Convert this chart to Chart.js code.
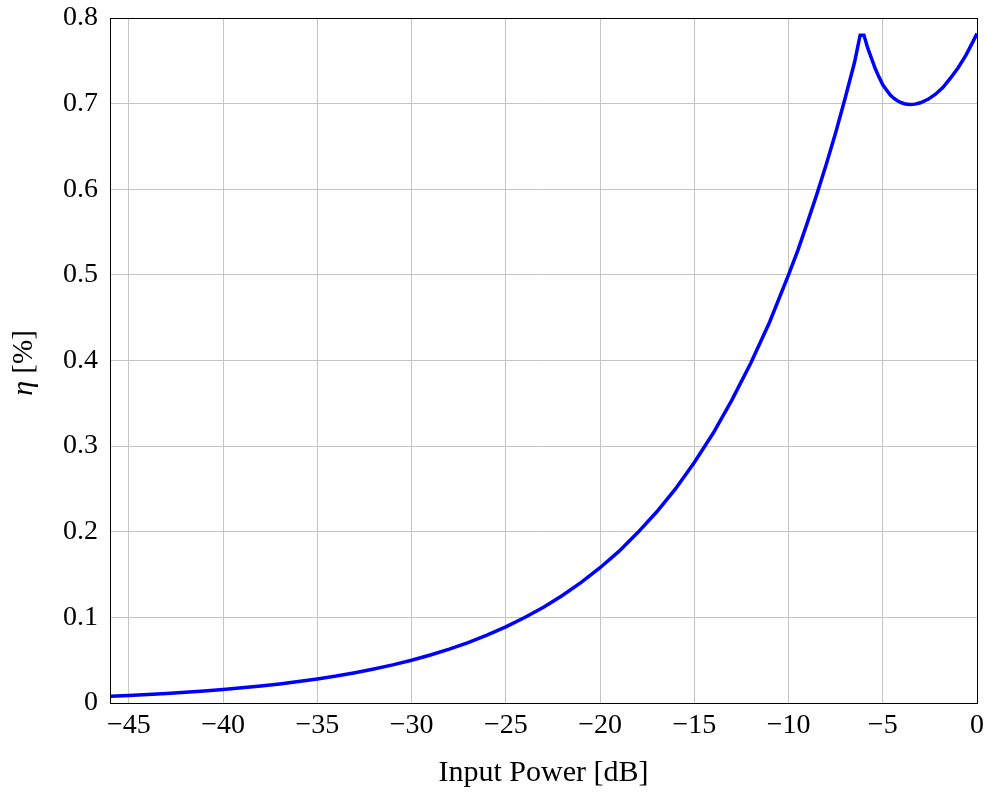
<!DOCTYPE html>
<html lang="en">
<head>
    <meta charset="UTF-8">
    <title>Efficiency vs. Input Power</title>
    <script src="https://cdn.jsdelivr.net/npm/chart.js"></script>
    <style>
        body { margin: 0; padding: 0; background: #fff; }
        #wrap { width: 997px; height: 793px; }
    </style>
</head>
<body>
    <div id="wrap"><canvas id="etaChart" width="997" height="793"></canvas></div>

    <script>
        // input power (dB) and drain efficiency
        const inputPower = [
            -46, -45, -44, -43, -42, -41, -40, -39, -38, -37, -36, -35, -34, -33, -32, -31,
            -30, -29, -28, -27, -26, -25, -24, -23, -22, -21, -20, -19, -18, -17, -16, -15,
            -14, -13, -12, -11, -10, -9.5, -9, -8.5, -8, -7.5, -7, -6.5, -6.2, -6.0,
            -5.8, -5.6, -5.4, -5.2, -5.0, -4.8, -4.6, -4.4, -4.2, -4.0, -3.8, -3.55, -3.3,
            -3.0, -2.6, -2.2, -1.8, -1.4, -1.0, -0.6, -0.2, 0
        ];
        const eta = [
            0.0079, 0.0089, 0.0100, 0.0112, 0.0126, 0.0141, 0.0158, 0.0177, 0.0199, 0.0223, 0.0250, 0.0281, 0.0315, 0.0354, 0.0397, 0.0445,
            0.0500, 0.0561, 0.0629, 0.0706, 0.0792, 0.0889, 0.0998, 0.1119, 0.1255, 0.1408, 0.158, 0.177, 0.199, 0.223, 0.250, 0.281,
            0.315, 0.354, 0.397, 0.445, 0.500, 0.529, 0.561, 0.594, 0.629, 0.666, 0.706, 0.748, 0.780, 0.780,
            0.765, 0.753, 0.741, 0.731, 0.722, 0.716, 0.710, 0.706, 0.703, 0.701, 0.6995, 0.699, 0.6994,
            0.701, 0.705, 0.711, 0.719, 0.730, 0.742, 0.756, 0.773, 0.782
        ];
        const xTicks = [-45, -40, -35, -30, -25, -20, -15, -10, -5, 0];
        const yTicks = [0, 0.1, 0.2, 0.3, 0.4, 0.5, 0.6, 0.7, 0.8];

        const serif = "'Liberation Serif', 'DejaVu Serif', serif";
        const gridColor = '#c4c4c4';

        // black frame around the plot area + rotated y label with italic eta
        const framePlugin = {
            id: 'frame',
            afterDatasetsDraw(chart) {
                const a = chart.chartArea, ctx = chart.ctx;
                ctx.save();
                ctx.strokeStyle = '#000';
                ctx.lineWidth = 1;
                ctx.strokeRect(Math.round(a.left) + 0.5, Math.round(a.top) + 0.5,
                    Math.round(a.right - a.left), Math.round(a.bottom - a.top));
                ctx.restore();
            },
            afterDraw(chart) {
                const ctx = chart.ctx;
                ctx.save();
                ctx.translate(24, 363);
                ctx.rotate(-Math.PI / 2);
                ctx.fillStyle = '#000';
                ctx.textBaseline = 'middle';
                ctx.textAlign = 'left';
                const greek = 'italic 30px ' + serif, plain = '29px ' + serif;
                ctx.font = greek;
                const w1 = ctx.measureText('\u03b7').width;
                ctx.font = plain;
                const txt = ' [%]';
                const w2 = ctx.measureText(txt).width;
                const x0 = -(w1 + w2) / 2;
                ctx.font = greek;
                ctx.fillText('\u03b7', x0, 0);
                ctx.font = plain;
                ctx.fillText(txt, x0 + w1, 0);
                ctx.restore();
            }
        };

        const fmt = v => v < 0 ? '\u2212' + Math.abs(v) : String(v);

        new Chart(document.getElementById('etaChart'), {
            type: 'line',
            data: {
                datasets: [{
                    data: inputPower.map((x, i) => ({ x: x, y: eta[i] })),
                    borderColor: '#0000ff',
                    borderWidth: 3.5,
                    pointRadius: 0,
                    tension: 0,
                    fill: false
                }]
            },
            options: {
                responsive: false,
                animation: false,
                layout: { padding: { top: 18, right: 20, left: 0, bottom: 0 } },
                plugins: { legend: { display: false }, tooltip: { enabled: false } },
                scales: {
                    x: {
                        type: 'linear',
                        min: -46, max: 0,
                        afterBuildTicks: s => { s.ticks = xTicks.map(v => ({ value: v })); },
                        afterFit: s => { s.height = 90; s.paddingLeft = 0; s.paddingRight = 0; },
                        grid: { color: gridColor, lineWidth: 1, drawTicks: false },
                        border: { display: false },
                        ticks: {
                            color: '#000', padding: 6,
                            font: { family: serif, size: 28 },
                            maxRotation: 0,
                            callback: fmt
                        },
                        title: {
                            display: true, text: 'Input Power [dB]', color: '#000',
                            font: { family: serif, size: 30 },
                            padding: { top: 2, bottom: 2 }
                        }
                    },
                    y: {
                        type: 'linear',
                        min: 0, max: 0.8,
                        afterBuildTicks: s => { s.ticks = yTicks.map(v => ({ value: v })); },
                        afterFit: s => { s.width = 110; s.paddingTop = 0; s.paddingBottom = 0; },
                        grid: { color: gridColor, lineWidth: 1, drawTicks: false },
                        border: { display: false },
                        ticks: {
                            color: '#000', padding: 12,
                            font: { family: serif, size: 28 },
                            callback: v => fmt(Math.round(v * 10) / 10)
                        }
                    }
                }
            },
            plugins: [framePlugin]
        });
    </script>
</body>
</html>
